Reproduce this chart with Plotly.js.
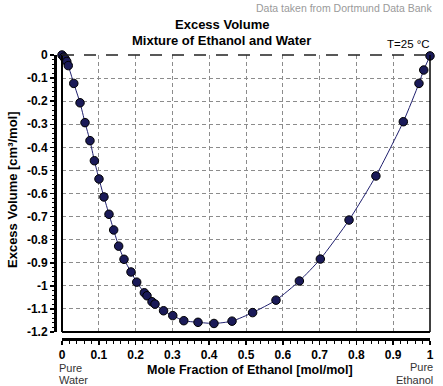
<!DOCTYPE html>
<html>
<head>
<meta charset="utf-8">
<script src="https://cdn.plot.ly/plotly-3.0.1.min.js"></script>
<style>html,body{margin:0;padding:0;background:#fff;}#chart{width:443px;height:386px;}</style>
</head>
<body>
<div id="chart"></div>
<script>
// Mole fraction of ethanol [mol/mol]
var moleFraction = [0.000, 0.005, 0.009, 0.013, 0.017, 0.032, 0.049, 0.0625, 0.076, 0.088,
  0.1005, 0.114, 0.1277, 0.1404, 0.154, 0.1685, 0.1875, 0.203, 0.2237, 0.231,
  0.2446, 0.2527, 0.276, 0.301, 0.331, 0.3696, 0.413, 0.462, 0.518, 0.5815,
  0.645, 0.702, 0.780, 0.853, 0.9275, 0.970, 0.983, 1.000];
// Excess volume [cm3/mol]
var excessVolume = [0.000, -0.009, -0.018, -0.028, -0.046, -0.123, -0.207, -0.293, -0.371, -0.458,
  -0.537, -0.615, -0.690, -0.758, -0.828, -0.885, -0.940, -0.984, -1.030, -1.043,
  -1.069, -1.079, -1.108, -1.129, -1.151, -1.158, -1.163, -1.153, -1.116, -1.062,
  -0.979, -0.884, -0.715, -0.524, -0.289, -0.123, -0.065, -0.004];

var xTickVals = [0, 0.1, 0.2, 0.3, 0.4, 0.5, 0.6, 0.7, 0.8, 0.9, 1];
var xTickText = ["0", "0.1", "0.2", "0.3", "0.4", "0.5", "0.6", "0.7", "0.8", "0.9", "1"];
var yTickVals = [0, -0.1, -0.2, -0.3, -0.4, -0.5, -0.6, -0.7, -0.8, -0.9, -1, -1.1, -1.2];
var yTickText = ["0", "-0.1", "-0.2", "-0.3", "-0.4", "-0.5", "-0.6", "-0.7", "-0.8", "-0.9", "-1", "-1.1", "-1.2"];

var FONT = "Liberation Sans, Arial, sans-serif";

var trace = {
  x: moleFraction, y: excessVolume, type: "scatter", mode: "lines+markers",
  line: {color: "#1f1f6e", width: 1, shape: "spline", smoothing: 0.6},
  marker: {color: "#1a1a58", size: 8.5, line: {color: "#000", width: 1}},
  cliponaxis: false, hoverinfo: "skip"
};

// plot box: x 62..430, y 55..332 ; axis lines at x=55 and y=339
var W = 443, H = 386, mL = 55, mR = 13, mT = 55, mB = 47;
var pw = W - mL - mR, ph = H - mT - mB;
function px(p) { return (p - mL) / pw; }
function py(p) { return (H - mB - p) / ph; }

function label(text, x, y, xa, size, color, extra) {
  var a = {text: text, xref: "paper", yref: "paper", x: px(x), y: py(y),
    xanchor: xa, yanchor: "middle", showarrow: false, borderpad: 0,
    font: {family: FONT, size: size, color: color}};
  if (extra) { for (var k in extra) a[k] = extra[k]; }
  return a;
}

var layout = {
  width: W, height: H,
  margin: {l: mL, r: mR, t: mT, b: mB, pad: 0},
  paper_bgcolor: "#fff", plot_bgcolor: "#fff",
  showlegend: false,
  font: {family: FONT, color: "#000"},
  xaxis: {
    domain: [px(62), 1], range: [0, 1], anchor: "free", position: 0,
    showline: true, linecolor: "#000", linewidth: 3,
    tickmode: "array", tickvals: xTickVals, ticktext: xTickText,
    ticks: "outside", ticklen: 4, tickwidth: 1.5, tickcolor: "#000",
    tickfont: {family: FONT, size: 12, color: "#000", weight: "bold"},
    showgrid: true, gridcolor: "#8c8c8c", gridwidth: 1, griddash: "4px,3px",
    minor: {dtick: 0.02, ticks: "outside", ticklen: 3, tickwidth: 1, tickcolor: "#000", showgrid: false},
    zeroline: false, fixedrange: true
  },
  yaxis: {
    domain: [py(332), 1], range: [-1.2, 0], anchor: "free", position: 0,
    showline: true, linecolor: "#000", linewidth: 3,
    tickmode: "array", tickvals: yTickVals, ticktext: yTickText,
    ticks: "outside", ticklen: 4, tickwidth: 1.5, tickcolor: "#000",
    tickfont: {family: FONT, size: 12, color: "#000", weight: "bold"},
    showgrid: true, gridcolor: "#8c8c8c", gridwidth: 1, griddash: "4px,3px",
    minor: {dtick: 0.02, ticks: "outside", ticklen: 2.5, tickwidth: 1, tickcolor: "#000", showgrid: false},
    zeroline: false, fixedrange: true
  },
  shapes: [
    {type: "line", xref: "x domain", yref: "y domain", x0: 0, x1: 0, y0: 0, y1: 1, line: {color: "#000", width: 2}},
    {type: "line", xref: "x domain", yref: "y domain", x0: 0, x1: 1, y0: 0, y1: 0, line: {color: "#000", width: 2}},
    {type: "line", xref: "x domain", yref: "y domain", x0: 1, x1: 1, y0: 0, y1: 1, line: {color: "#000", width: 1.5}},
    {type: "line", xref: "x domain", yref: "y domain", x0: 0, x1: 1, y0: 1, y1: 1, line: {color: "#222", width: 1.5, dash: "12px,10px"}}
  ],
  annotations: [
    label("<b>Excess Volume</b>", 221.5, 24, "center", 13, "#000"),
    label("<b>Mixture of Ethanol and Water</b>", 221.5, 40.5, "center", 13, "#000"),
    label("Data taken from Dortmund Data Bank", 433, 8, "right", 10.5, "#9a9a9a"),
    label("T=25 °C", 431, 44, "right", 11.5, "#000"),
    label("<b>Mole Fraction of Ethanol [mol/mol]</b>", 250, 370, "center", 12.5, "#000"),
    label("<b>Excess Volume [cm³/mol]</b>", 12, 190, "center", 13, "#000", {textangle: -90}),
    label("Pure", 58, 367.5, "left", 11, "#333"),
    label("Water", 58, 380, "left", 11, "#333"),
    label("Pure", 434, 367, "right", 11, "#333"),
    label("Ethanol", 434, 379.5, "right", 11, "#333")
  ]
};

Plotly.newPlot("chart", [trace], layout, {displayModeBar: false, staticPlot: true});
</script>
</body>
</html>
